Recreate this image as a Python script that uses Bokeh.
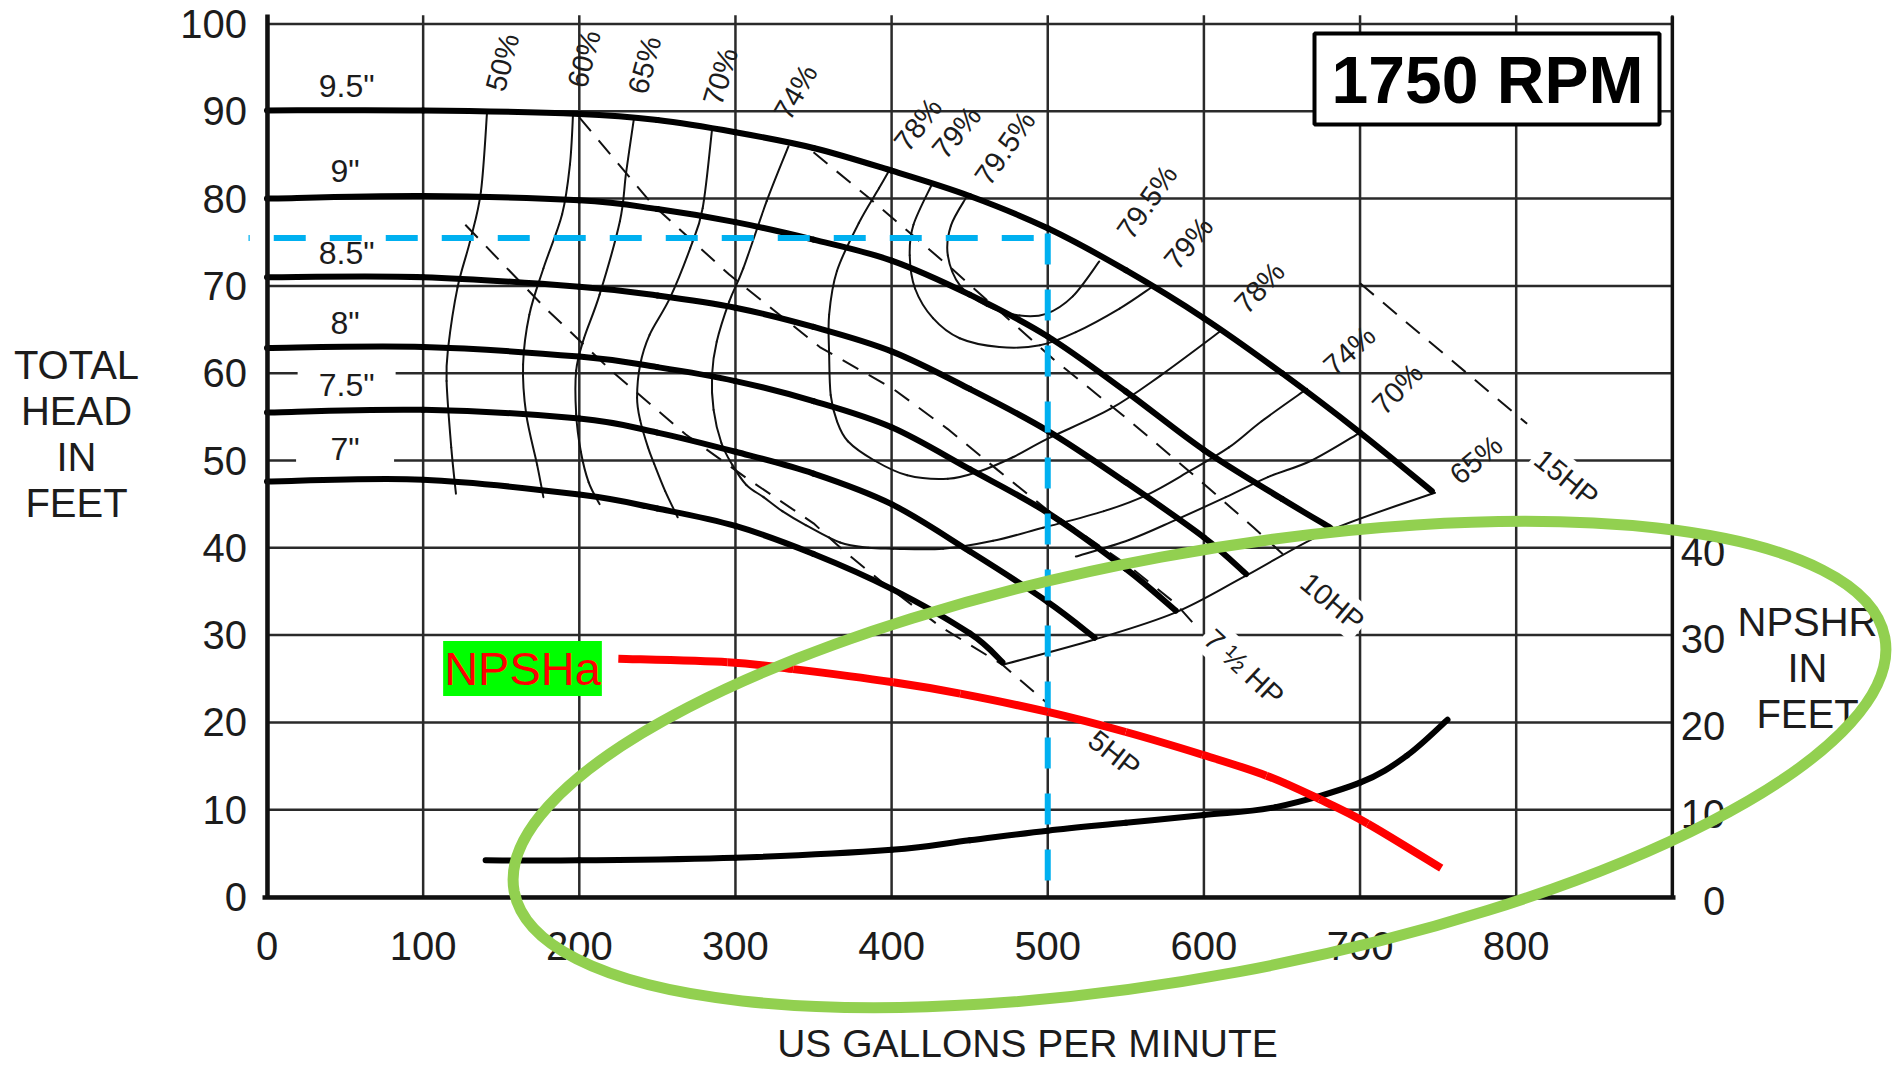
import math
from bokeh.plotting import figure
from bokeh.models import Range1d, LinearAxis, FixedTicker
from bokeh.core.properties import value
from bokeh.embed import file_html
from bokeh.resources import INLINE

# ------------------------------------------------------------------ DATA
flow_ticks = [0, 100, 200, 300, 400, 500, 600, 700, 800]
head_ticks = [0, 10, 20, 30, 40, 50, 60, 70, 80, 90, 100]
npshr_ticks = [0, 10, 20, 30, 40]
npshr_tick_labels = ["0", "10", "20", "30", "40"]
grid_flow = [0, 100, 200, 300, 400, 500, 600, 700, 800, 900]
grid_head = [0, 10, 20, 30, 40, 50, 60, 70, 80, 90, 100]
FLOW_MAX = 900
HEAD_MAX = 100

# impeller head curves (US gpm, ft)
q_95 = [0, 100, 200, 250, 300, 350, 400, 450, 500, 550, 600, 650, 700, 746]
h_95 = [90.1, 90.1, 89.7, 89.0, 87.6, 85.8, 83.2, 80.3, 76.6, 71.8, 66.3, 60.0, 53.2, 46.5]
q_90 = [0, 100, 200, 250, 300, 350, 400, 450, 500, 550, 600, 650, 681]
h_90 = [80.0, 80.3, 79.8, 78.8, 77.3, 75.3, 72.9, 69.0, 64.2, 57.9, 51.2, 45.6, 42.3]
q_85 = [0, 100, 200, 250, 300, 350, 400, 450, 500, 550, 600, 627]
h_85 = [71.0, 71.0, 69.9, 68.9, 67.5, 65.3, 62.5, 58.2, 53.4, 47.5, 41.2, 37.0]
q_80 = [0, 100, 200, 250, 300, 350, 400, 450, 500, 550, 582]
h_80 = [62.9, 63.0, 61.9, 60.7, 59.1, 56.8, 53.8, 49.0, 44.0, 37.6, 32.8]
q_75 = [0, 100, 200, 250, 300, 350, 400, 450, 500, 530]
h_75 = [55.5, 55.8, 54.8, 53.2, 51.0, 48.5, 45.0, 39.6, 33.8, 29.7]
q_70 = [0, 100, 200, 250, 300, 350, 400, 450, 471]
h_70 = [47.6, 47.8, 46.1, 44.5, 42.5, 39.3, 35.3, 30.2, 26.9]
impeller_names = ['9.5"', '9"', '8.5"', '8"', '7.5"', '7"']
impeller_label_flow = [51, 50, 51, 50, 51, 50]
impeller_label_head = [92.95, 83.2, 73.75, 65.7, 58.6, 51.3]

# iso-efficiency lines
q_e50 = [141, 137, 130, 122, 116, 115, 118, 121]
h_e50 = [90.1, 80.8, 75.1, 69.8, 62.9, 59.1, 51.5, 46.2]
q_e60 = [196, 194, 189, 177, 168, 164, 166, 173, 177]
h_e60 = [89.7, 83.9, 78.2, 72.0, 66.7, 61.0, 55.3, 49.5, 45.8]
q_e65 = [235, 230, 226, 213, 203, 198, 198, 201, 206, 213]
h_e65 = [89.2, 83.0, 77.4, 69.0, 64.0, 60.3, 55.3, 51.0, 47.5, 45.0]
q_e70a = [285, 279, 271, 258, 245, 239, 237, 239, 244, 248, 255, 263]
h_e70a = [87.9, 78.9, 74.3, 68.6, 64.4, 61.0, 57.2, 54.6, 51.5, 49.6, 46.5, 43.5]
q_e70b = [700, 669, 641, 614, 582, 552, 518]
h_e70b = [53.2, 50.0, 48.1, 45.8, 43.2, 40.9, 39.0]
q_e74 = [334, 320, 305, 296, 288, 285, 286, 291, 298, 307, 318, 330, 345, 367, 385, 401,
         433, 465, 497, 536, 564, 591, 616, 637, 666]
h_e74 = [86.0, 79.7, 72.0, 68.2, 63.6, 59.8, 55.8, 52.0, 49.5, 47.2, 45.8, 44.2, 42.6, 40.6,
         40.0, 39.9, 39.9, 40.8, 42.3, 44.2, 46.1, 48.8, 51.5, 54.5, 58.2]
q_e78 = [399, 392, 379, 365, 360, 360, 361, 365, 372, 389, 410, 436, 457, 478, 500, 540, 572, 612]
h_e78 = [83.4, 81.2, 77.2, 71.7, 66.7, 62.2, 57.5, 54.5, 52.2, 50.0, 48.3, 47.9, 48.8, 50.4,
         52.5, 55.9, 59.7, 65.0]
q_e79 = [426, 414, 411.6, 415, 426.5, 443.6, 469, 495, 518, 546, 567]
h_e79 = [81.7, 77.0, 73.5, 69.7, 66.3, 64.0, 63.0, 63.2, 64.7, 67.4, 69.9]
q_e795 = [448, 438, 436, 444, 461, 482, 499, 516, 533]
h_e795 = [80.2, 76.9, 73.5, 70.0, 67.7, 66.6, 66.8, 68.8, 72.8]
q_e65r = [748, 681, 627, 582, 530, 471]
h_e65r = [46.3, 42.0, 36.8, 32.6, 29.5, 26.6]
eff_label_text = ["50%", "60%", "65%", "70%", "74%", "78%", "79%", "79.5%",
                  "79.5%", "79%", "78%", "74%", "70%", "65%"]
eff_label_flow = [150.8, 203, 241.8, 290.4, 338.5, 416.9, 441.6, 472.6,
                  563.6, 590.1, 635.6, 693.2, 724, 774.3]
eff_label_head = [95.6, 96.0, 95.3, 94.0, 92.2, 88.5, 87.6, 85.8,
                  79.6, 74.9, 69.8, 62.6, 58.2, 50.1]
eff_label_angle = [75, 75, 75, 73, 60, 52, 50, 55, 55, 50, 47, 42, 46, 40]

# power (HP) lines
q_hp5 = [127, 178, 221, 268, 307, 350, 371, 393, 431, 471, 501]
h_hp5 = [77.0, 67.5, 60.2, 53.0, 48.0, 42.8, 39.4, 36.2, 31.0, 26.6, 22.0]
q_hp75 = [200, 247, 296, 354, 401, 436, 468, 500, 552, 582, 594]
h_hp75 = [89.3, 79.3, 71.3, 63.0, 58.2, 53.6, 48.9, 44.3, 37.9, 33.6, 31.2]
q_hp10 = [350, 386, 439, 503, 550, 593, 632, 651]
h_hp10 = [85.3, 80.0, 71.9, 61.7, 54.9, 48.4, 42.3, 39.2]
q_hp15 = [700, 807]
h_hp15 = [70.3, 54.2]
hp_label_text = ["5HP", "7 \u00bd HP", "10HP", "15HP"]
hp_label_flow = [542.7, 625.7, 682.3, 832.2]
hp_label_head = [16.4, 26.3, 33.8, 48.0]
hp_label_angle = [-38, -43, -40, -39]

# NPSH required (right axis, ft) and NPSH available
q_npshr = [140, 200, 300, 400, 450, 500, 550, 600, 646, 700, 730, 756]
h_npshr = [4.2, 4.2, 4.5, 5.4, 6.5, 7.6, 8.5, 9.4, 10.3, 13.1, 16.2, 20.3]
q_npsha = [225, 295, 337, 401, 444, 500, 550, 599, 640, 674, 705, 752]
h_npsha = [27.3, 26.9, 26.1, 24.6, 23.3, 21.2, 18.9, 16.3, 13.9, 11.2, 8.4, 3.3]

# duty point
op_flow = 500
op_head = 75.5

# ------------------------------------------------------------------ LAYOUT
W, H = 1897, 1071
X0_PX, XS = 266.5, 1.5615   # canvas px of flow 0, px per gpm
Y0_PX, YS = 896.5, 8.73     # canvas px (from top) of head 0, px per ft


def fx(page_x):
    return (page_x - X0_PX) / XS


def fy(page_y):
    return (Y0_PX - page_y) / YS


def smooth(q, h):
    """Cubic Bezier pieces through the read points (Catmull-Rom tangents)."""
    pts = list(zip(q, h))
    n = len(pts)
    out = {k: [] for k in ("x0", "y0", "x1", "y1", "cx0", "cy0", "cx1", "cy1")}
    for i in range(n - 1):
        p0 = pts[i - 1] if i > 0 else pts[i]
        p1, p2 = pts[i], pts[i + 1]
        p3 = pts[i + 2] if i + 2 < n else pts[i + 1]
        out["x0"].append(p1[0]); out["y0"].append(p1[1])
        out["x1"].append(p2[0]); out["y1"].append(p2[1])
        out["cx0"].append(p1[0] + (p2[0] - p0[0]) / 6)
        out["cy0"].append(p1[1] + (p2[1] - p0[1]) / 6)
        out["cx1"].append(p2[0] - (p3[0] - p1[0]) / 6)
        out["cy1"].append(p2[1] - (p3[1] - p1[1]) / 6)
    return out


FONT = value("Liberation Sans")
INK = "#1c1c1c"

p = figure(width=W, height=H,
           x_range=Range1d(-X0_PX / XS, (W - X0_PX) / XS),
           y_range=Range1d((Y0_PX - H) / YS, Y0_PX / YS),
           x_axis_type=None, y_axis_type=None,
           toolbar_location=None, output_backend="svg",
           min_border=0, outline_line_color=None,
           background_fill_color="white", border_fill_color="white")

# grid
ng = len(grid_flow)
p.segment(x0=grid_flow, y0=[0] * ng, x1=grid_flow, y1=[HEAD_MAX + 1.0] * ng,
          line_color="#2a2a2a", line_width=2.5)
nh = len(grid_head)
p.segment(x0=[0] * nh, y0=grid_head, x1=[FLOW_MAX] * nh, y1=grid_head,
          line_color="#2a2a2a", line_width=2.5)
# gaps in gridlines behind the two lowest diameter labels
p.rect(x=impeller_label_flow[4:], y=[60, 50], width=98, height=9,
       width_units="screen", height_units="screen",
       fill_color="white", line_color=None)
# right border
p.line([FLOW_MAX, FLOW_MAX], [0, HEAD_MAX + 0.9], line_color="#111111", line_width=3.5)

# axes
left = LinearAxis(fixed_location=0, ticker=FixedTicker(ticks=head_ticks), bounds=(0, HEAD_MAX + 1.1))
bottom = LinearAxis(fixed_location=0, ticker=FixedTicker(ticks=flow_ticks), bounds=(-3, FLOW_MAX + 2))
for ax, standoff in ((left, 20), (bottom, 35)):
    ax.axis_line_width = 4.5
    ax.axis_line_color = "#111111"
    ax.major_tick_line_color = None
    ax.minor_tick_line_color = None
    ax.major_tick_out = 0
    ax.major_tick_in = 0
    ax.major_label_standoff = standoff
    ax.major_label_text_font = "Liberation Sans"
    ax.major_label_text_font_size = "40px"
    ax.major_label_text_color = INK
p.add_layout(left, "left")
p.add_layout(bottom, "below")

# right (NPSHR) tick labels
p.text(x=[FLOW_MAX] * len(npshr_ticks), y=npshr_ticks, text=npshr_tick_labels,
       x_offset=53, y_offset=4, text_align="right", text_baseline="middle",
       text_font=FONT, text_font_size="40px", text_color=INK)

# axis titles
p.text(x=[fx(76)], y=[fy(433.5)], text=["TOTAL\nHEAD\nIN\nFEET"], text_align="center",
       text_baseline="middle", text_font=FONT, text_font_size="40px",
       text_line_height=1.05, text_color=INK)
p.text(x=[fx(1807)], y=[fy(667.5)], text=["NPSHR\nIN\nFEET"], text_align="center",
       text_baseline="middle", text_font=FONT, text_font_size="40px",
       text_line_height=1.05, text_color=INK)
p.text(x=[fx(1027)], y=[fy(1043)], text=["US GALLONS PER MINUTE"], text_align="center",
       text_baseline="middle", text_font=FONT, text_font_size="39px", text_color=INK)

# iso-efficiency lines
for q, h in ((q_e50, h_e50), (q_e60, h_e60), (q_e65, h_e65), (q_e70a, h_e70a),
             (q_e70b, h_e70b), (q_e74, h_e74), (q_e78, h_e78), (q_e79, h_e79),
             (q_e795, h_e795), (q_e65r, h_e65r)):
    p.bezier(**smooth(q, h), line_color="#111111", line_width=2, line_cap="round")

# HP lines
for q, h in ((q_hp5, h_hp5), (q_hp75, h_hp75), (q_hp10, h_hp10), (q_hp15, h_hp15)):
    p.line(q, h, line_color="#111111", line_width=2, line_dash="18 12")

# impeller curves
for q, h in ((q_95, h_95), (q_90, h_90), (q_85, h_85), (q_80, h_80), (q_75, h_75), (q_70, h_70)):
    p.bezier(**smooth(q, h), line_color="black", line_width=6, line_cap="round")

# NPSHR
p.bezier(**smooth(q_npshr, h_npshr), line_color="black", line_width=6, line_cap="round")

# labels on the chart
p.text(x=impeller_label_flow, y=impeller_label_head, text=impeller_names,
       text_align="center", text_baseline="middle", text_font=FONT,
       text_font_size="32px", text_color=INK)
p.text(x=eff_label_flow, y=eff_label_head, text=eff_label_text,
       angle=[math.radians(a) for a in eff_label_angle],
       text_align="center", text_baseline="middle", text_font=FONT,
       text_font_size="29px", text_color=INK)
p.text(x=hp_label_flow, y=hp_label_head, text=hp_label_text,
       angle=[math.radians(a) for a in hp_label_angle],
       text_align="center", text_baseline="middle", text_font=FONT,
       text_font_size="29px", text_color=INK,
       background_fill_color="white", padding=3)

# speed box
p.quad(left=[fx(1314)], right=[fx(1659)], top=[fy(33)], bottom=[fy(124)],
       fill_color="white", line_color="black", line_width=4)
p.text(x=[fx(1487)], y=[fy(79)], text=["1750 RPM"], text_align="center",
       text_baseline="middle", text_font=FONT, text_font_style="bold",
       text_font_size="66px", text_color="black")

# duty point lines
BLUE = "#00B0F0"
p.line([op_flow - 14 / XS, 0 - 18.5 / XS], [op_head, op_head],
       line_color=BLUE, line_width=6, line_dash="32 24")
p.line([op_flow, op_flow], [op_head + 4.4 / YS, 0 + 16.5 / YS],
       line_color=BLUE, line_width=6, line_dash="31 25")

# NPSHa
p.bezier(**smooth(q_npsha, h_npsha), line_color="#FF0000", line_width=8, line_cap="butt")
p.text(x=[fx(522)], y=[fy(668)], text=["NPSHa"], text_align="center",
       text_baseline="middle", text_font=FONT, text_font_size="47px",
       text_color="#FF0000", background_fill_color="#00FF00", padding=1)

# highlight ellipse
ell = p.ellipse(x=[fx(1199)], y=[fy(764)], width=[1394 / XS], height=[422 / YS],
                angle=math.radians(10.5), fill_color=None,
                line_color="#92D050", line_width=11)
ell.level = "overlay"

open("out.html", "w").write(file_html(p, INLINE))
